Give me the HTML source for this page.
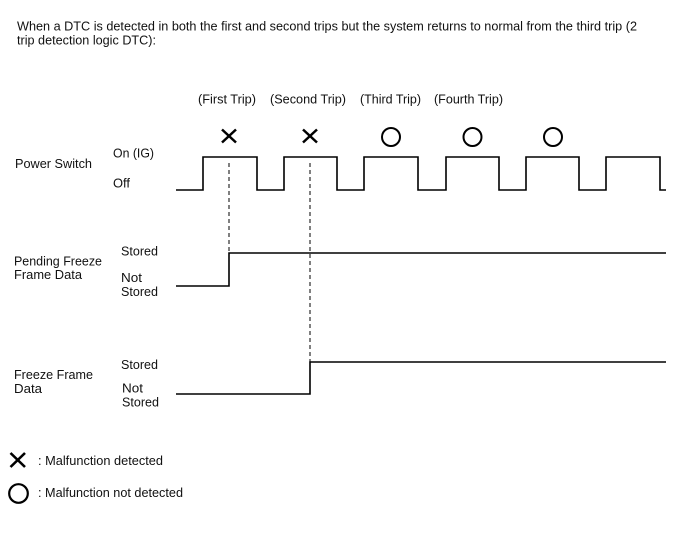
<!DOCTYPE html>
<html>
<head>
<meta charset="utf-8">
<style>
  html, body { margin:0; padding:0; background:#fff; }
  svg { display:block; }
  text { font-family: "Liberation Sans", Arial, sans-serif; font-size:12.5px; fill:#111; }
</style>
</head>
<body>
<svg width="688" height="560" viewBox="0 0 688 560" xmlns="http://www.w3.org/2000/svg">
  <rect width="688" height="560" fill="#fff"/>

  <!-- Header -->
  <text x="17" y="30.5" textLength="620" lengthAdjust="spacingAndGlyphs">When a DTC is detected in both the first and second trips but the system returns to normal from the third trip (2</text>
  <text x="17" y="44.5" textLength="139" lengthAdjust="spacingAndGlyphs">trip detection logic DTC):</text>

  <!-- Trip labels -->
  <text x="198" y="103.5" textLength="58" lengthAdjust="spacingAndGlyphs">(First Trip)</text>
  <text x="270" y="103.5" textLength="76" lengthAdjust="spacingAndGlyphs">(Second Trip)</text>
  <text x="360" y="103.5" textLength="61" lengthAdjust="spacingAndGlyphs">(Third Trip)</text>
  <text x="434" y="103.5" textLength="69" lengthAdjust="spacingAndGlyphs">(Fourth Trip)</text>

  <!-- Marks -->
  <g stroke="#000" stroke-width="2.5" fill="none" stroke-linecap="butt">
    <line x1="222" y1="129.5" x2="236" y2="142.5"/>
    <line x1="236" y1="129.5" x2="222" y2="142.5"/>
    <line x1="303" y1="129.5" x2="317" y2="142.5"/>
    <line x1="317" y1="129.5" x2="303" y2="142.5"/>
  </g>
  <g stroke="#000" stroke-width="2" fill="none">
    <circle cx="391" cy="137" r="9"/>
    <circle cx="472.5" cy="137" r="9"/>
    <circle cx="553" cy="137" r="9"/>
  </g>

  <!-- Power switch labels -->
  <text x="15" y="168" textLength="77" lengthAdjust="spacingAndGlyphs">Power Switch</text>
  <text x="113" y="157.5" textLength="41" lengthAdjust="spacingAndGlyphs">On (IG)</text>
  <text x="113" y="187.5" textLength="17" lengthAdjust="spacingAndGlyphs">Off</text>

  <!-- Power switch waveform -->
  <path d="M176,190 H203 V157 H257 V190 H284 V157 H337 V190 H364 V157 H418 V190 H446 V157 H499 V190 H526 V157 H579 V190 H606 V157 H660 V190 H666" stroke="#000" stroke-width="1.6" fill="none"/>

  <!-- Dashed lines -->
  <g stroke="#000" stroke-width="1" stroke-dasharray="4,3" fill="none">
    <line x1="229" y1="163" x2="229" y2="253"/>
    <line x1="310" y1="163" x2="310" y2="362"/>
  </g>

  <!-- Pending Freeze Frame Data -->
  <text x="14" y="265.5" textLength="88" lengthAdjust="spacingAndGlyphs">Pending Freeze</text>
  <text x="14" y="279" textLength="68" lengthAdjust="spacingAndGlyphs">Frame Data</text>
  <text x="121" y="255.5" textLength="37" lengthAdjust="spacingAndGlyphs">Stored</text>
  <text x="121" y="282" textLength="21" lengthAdjust="spacingAndGlyphs">Not</text>
  <text x="121" y="296" textLength="37" lengthAdjust="spacingAndGlyphs">Stored</text>
  <path d="M176,286 H229 V253 H666" stroke="#000" stroke-width="1.6" fill="none"/>

  <!-- Freeze Frame Data -->
  <text x="14" y="379" textLength="79" lengthAdjust="spacingAndGlyphs">Freeze Frame</text>
  <text x="14" y="393" textLength="28" lengthAdjust="spacingAndGlyphs">Data</text>
  <text x="121" y="369" textLength="37" lengthAdjust="spacingAndGlyphs">Stored</text>
  <text x="122" y="392.5" textLength="21" lengthAdjust="spacingAndGlyphs">Not</text>
  <text x="122" y="406.5" textLength="37" lengthAdjust="spacingAndGlyphs">Stored</text>
  <path d="M176,394 H310 V362 H666" stroke="#000" stroke-width="1.6" fill="none"/>

  <!-- Legend -->
  <g stroke="#000" stroke-width="2.6" fill="none">
    <line x1="10.5" y1="453" x2="25" y2="467"/>
    <line x1="25" y1="453" x2="10.5" y2="467"/>
  </g>
  <circle cx="18.5" cy="493.5" r="9.3" stroke="#000" stroke-width="2.2" fill="none"/>
  <text x="38" y="465" textLength="125" lengthAdjust="spacingAndGlyphs">: Malfunction detected</text>
  <text x="38" y="497" textLength="145" lengthAdjust="spacingAndGlyphs">: Malfunction not detected</text>
</svg>
</body>
</html>
